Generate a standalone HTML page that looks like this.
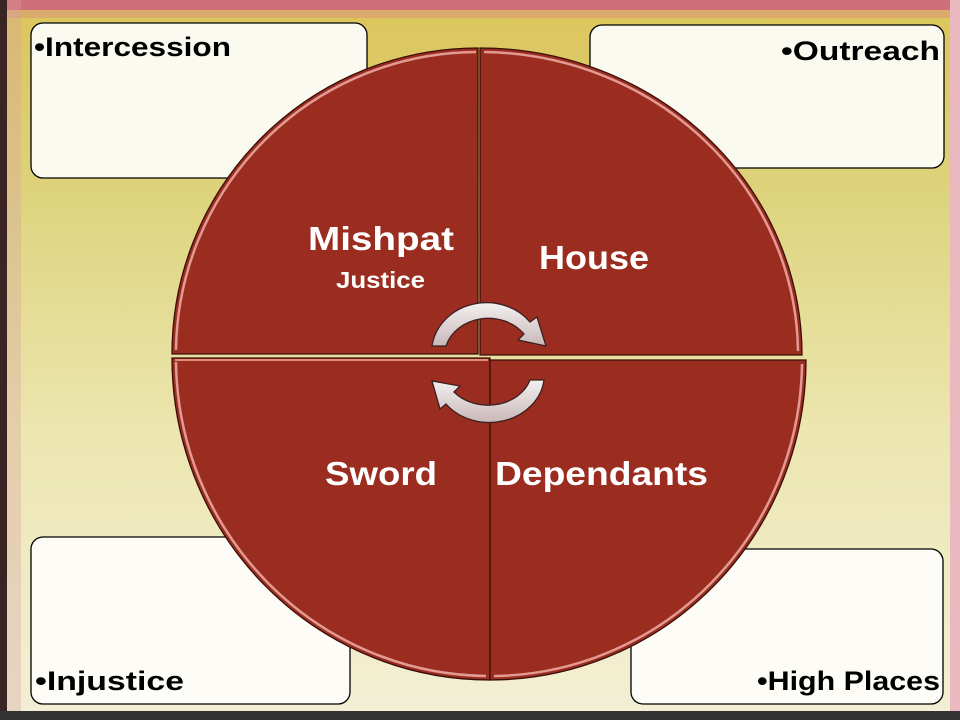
<!DOCTYPE html>
<html><head><meta charset="utf-8"><style>
html,body{margin:0;padding:0;width:960px;height:720px;overflow:hidden;background:#333;}
svg{display:block;font-family:"Liberation Sans",sans-serif;}
</style></head><body>
<svg width="960" height="720" viewBox="0 0 960 720" xmlns="http://www.w3.org/2000/svg">
<defs>
<linearGradient id="bg" x1="0" y1="0" x2="0" y2="1">
<stop offset="0" stop-color="#dcc45a"/>
<stop offset="0.25" stop-color="#ddd27a"/>
<stop offset="0.6" stop-color="#ece6b0"/>
<stop offset="1" stop-color="#f3efd6"/>
</linearGradient>
<linearGradient id="arr" x1="0" y1="0" x2="0" y2="1">
<stop offset="0" stop-color="#f4f0f0"/>
<stop offset="1" stop-color="#c9b8b8"/>
</linearGradient>
</defs>
<rect x="0" y="0" width="960" height="720" fill="url(#bg)"/>
<rect x="0" y="0" width="960" height="10" fill="#cf6f78"/>
<rect x="0" y="10" width="960" height="8" fill="#d99a78" opacity="0.6"/>
<rect x="0" y="0" width="7" height="720" fill="#3a2424"/>
<rect x="7" y="0" width="14" height="720" fill="#d8a0a0" opacity="0.35"/>
<rect x="950" y="0" width="10" height="720" fill="#eab9c0"/>
<rect x="0" y="711" width="960" height="9" fill="#333"/>

<!-- boxes -->
<rect x="31" y="23" width="336" height="155" rx="12" fill="#fbfaf0" stroke="#000" stroke-width="1.3"/>
<rect x="590" y="25" width="354" height="143" rx="12" fill="#fbfaf0" stroke="#000" stroke-width="1.3"/>
<rect x="31" y="537" width="319" height="167" rx="12" fill="#fdfcf6" stroke="#000" stroke-width="1.3"/>
<rect x="631" y="549" width="312" height="155" rx="12" fill="#fdfcf6" stroke="#000" stroke-width="1.3"/>

<g font-weight="bold" font-size="27" fill="#000">
<text x="34" y="56" textLength="197" lengthAdjust="spacingAndGlyphs">•Intercession</text>
<text x="781" y="60" textLength="159" lengthAdjust="spacingAndGlyphs">•Outreach</text>
<text x="35" y="690" textLength="149" lengthAdjust="spacingAndGlyphs">•Injustice</text>
<text x="757" y="690" textLength="183" lengthAdjust="spacingAndGlyphs">•High Places</text>
</g>

<!-- quadrants -->
<g fill="#9b2d20" stroke="#3a0e08" stroke-width="1.3">
<path d="M478,354 L172,354 A306,306 0 0 1 478,48 Z"/>
<path d="M480,355 L480,48 A322,307 0 0 1 802,355 Z"/>
<path d="M490,358 L172,358 A318,322 0 0 0 490,680 Z"/>
<path d="M490,360 L806,360 A316,320 0 0 1 490,680 Z"/>
</g>
<g fill="none" stroke="#e29a92" stroke-width="2.5">
<path d="M176,350 A302,302 0 0 1 476,52"/>
<path d="M484,52 A318,303 0 0 1 798,351"/>
<path d="M176,362 A314,318 0 0 0 486,676"/>
<path d="M802,364 A312,316 0 0 1 494,676"/>
</g>
<line x1="175" y1="360" x2="488" y2="360" stroke="#e08a80" stroke-width="2"/>

<!-- arrows -->
<g fill="url(#arr)" stroke="#3a2020" stroke-width="1.3">
<path d="M432,346 A55,50 0 0 1 530,322 L537,317 L546,346 L518,340 L524,334 A44,38 0 0 0 446,346 Z"/>
<path d="M544,380 A55,48 0 0 1 446,404 L440,409 L432,381 L460,386 L454,392 A44,36 0 0 0 530,380 Z"/>
</g>

<g font-weight="bold" fill="#fff">
<text x="308" y="250" font-size="33" textLength="146" lengthAdjust="spacingAndGlyphs">Mishpat</text>
<text x="336" y="288" font-size="23" textLength="89" lengthAdjust="spacingAndGlyphs">Justice</text>
<text x="539" y="269" font-size="33" textLength="110" lengthAdjust="spacingAndGlyphs">House</text>
<text x="325" y="485" font-size="33" textLength="112" lengthAdjust="spacingAndGlyphs">Sword</text>
<text x="495" y="485" font-size="33" textLength="213" lengthAdjust="spacingAndGlyphs">Dependants</text>
</g>
</svg>
</body></html>
